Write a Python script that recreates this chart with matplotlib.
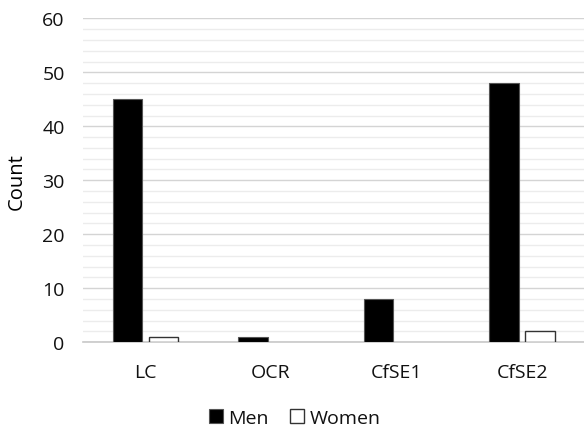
import numpy as np
import matplotlib
matplotlib.use('Agg')
import matplotlib.pyplot as plt
from matplotlib.ticker import MultipleLocator

# dados do gráfico
categorias = ['LC', 'OCR', 'CfSE1', 'CfSE2']
homens = [45, 1, 8, 48]
mulheres = [1, 0, 0, 2]

plt.rcParams['font.family'] = ['Open Sans', 'DejaVu Sans']
plt.rcParams['text.color'] = '#111111'
plt.rcParams['xtick.color'] = '#111111'
plt.rcParams['ytick.color'] = '#111111'

fig = plt.figure(figsize=(5.84, 4.31), dpi=100)
ax = fig.add_axes([0.1416, 0.204, 0.86, 0.7508])

x = np.arange(len(categorias))
largura = 0.235
desloc = 0.143

ax.bar(x - desloc, homens, largura, color='black', edgecolor='#555555',
       linewidth=0.8, label='Men', zorder=3)
# barras com valor zero não mostram contorno
bordas = [1.0 if v > 0 else 0 for v in mulheres]
ax.bar(x + desloc, mulheres, largura, color='white', edgecolor='#333333',
       linewidth=bordas, label='Women', zorder=3)

ax.set_xlim(-0.5, 3.5)
ax.set_ylim(0, 60)
ax.yaxis.set_major_locator(MultipleLocator(10))
ax.yaxis.set_minor_locator(MultipleLocator(2))
ax.grid(axis='y', which='major', color='#d4d4d4', linewidth=1.0, zorder=0)
ax.grid(axis='y', which='minor', color='#ececec', linewidth=1.0, zorder=0)

for lado in ['top', 'right', 'left']:
    ax.spines[lado].set_visible(False)
ax.spines['bottom'].set_color('#c8c8c8')
ax.spines['bottom'].set_linewidth(1.2)

ax.set_xticks(x)
ax.set_xticklabels(categorias)
ax.tick_params(axis='both', which='both', length=0, labelsize=14)
ax.tick_params(axis='y', pad=13)
ax.tick_params(axis='x', pad=15)
ax.set_ylabel('Count', fontsize=14.5, labelpad=11)

leg = fig.legend(loc='center', bbox_to_anchor=(295 / 584, 1 - 419 / 431),
                 ncol=2, frameon=False, fontsize=14, handlelength=0.7,
                 handleheight=0.7, handletextpad=0.3, columnspacing=1.1,
                 borderpad=0.1)
leg.legend_handles[1].set_linewidth(1.0)

fig.savefig('out.png', dpi=100)
